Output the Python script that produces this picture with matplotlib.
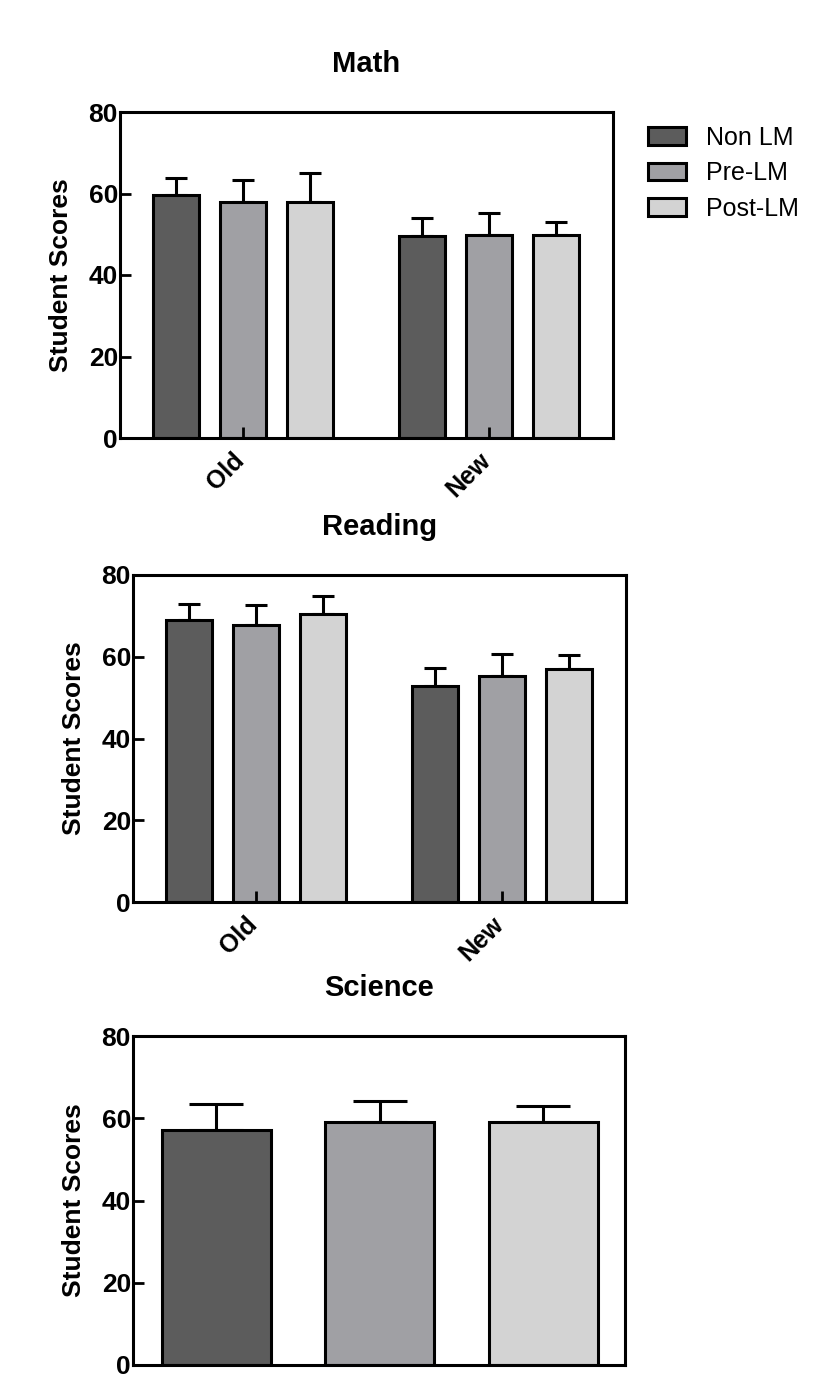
import matplotlib
matplotlib.use("Agg")
import matplotlib.pyplot as plt
import matplotlib.transforms as mtransforms
from matplotlib.patches import Patch

plt.rcParams['font.family'] = ['Liberation Sans', 'DejaVu Sans']

series = ["Non LM", "Pre-LM", "Post-LM"]
colors = ["#5c5c5c", "#a0a0a4", "#d3d3d3"]
groups = ["Old", "New"]

# rows: Non LM, Pre-LM, Post-LM ; columns: Old, New
math_means = [[59.6, 49.6], [57.9, 49.7], [57.9, 49.8]]
math_err = [[4.1, 4.3], [5.4, 5.4], [7.1, 3.3]]

reading_means = [[69.0, 52.8], [67.8, 55.3], [70.5, 57.1]]
reading_err = [[3.8, 4.4], [4.9, 5.4], [4.4, 3.3]]

science_means = [57.2, 59.0, 59.0]
science_err = [6.3, 5.1, 3.9]

yticks = [0, 20, 40, 60, 80]

W, H = 832, 1387
fig = plt.figure(figsize=(W / 100, H / 100), dpi=100)


def px_axes(left, top, right, bottom):
    return fig.add_axes([left / W, 1 - bottom / H, (right - left) / W, (bottom - top) / H])


def style(ax, title):
    ax.set_ylim(0, 80)
    ax.set_yticks(yticks)
    ax.set_axisbelow(False)
    for s in ax.spines.values():
        s.set_linewidth(2.2)
    ax.tick_params(axis='y', direction='in', length=8, width=2, pad=1.5, labelsize=19)
    for lab in ax.get_yticklabels():
        lab.set_fontweight('bold')
    ax.set_ylabel("Student Scores", fontsize=19, fontweight='bold', labelpad=11)
    ax.set_title(title, fontsize=21, fontweight='bold', pad=29)


def grouped(ax, means, errs, title):
    group_x = [0, 3.67]
    width = 0.69
    for i in range(len(series)):
        xs = [g + i for g in group_x]
        ax.bar(xs, means[i], width, color=colors[i], edgecolor='black', linewidth=2.2, zorder=1)
        ax.errorbar(xs, means[i], yerr=[[0] * len(xs), errs[i]], fmt='none', ecolor='black',
                    elinewidth=2.2, capsize=7.9, capthick=2.2, zorder=0.9)
    ax.set_xlim(-0.84, 6.52)
    ax.set_xticks([g + 1 for g in group_x])
    ax.set_xticklabels(groups, rotation=45, ha='right', fontsize=18, fontweight='bold')
    ax.tick_params(axis='x', direction='in', length=8, width=2, pad=7)
    offset = mtransforms.ScaledTranslation(6 / 100, 0, fig.dpi_scale_trans)
    for lab in ax.get_xticklabels():
        lab.set_transform(lab.get_transform() + offset)
    style(ax, title)


ax1 = px_axes(120, 112, 613, 438)
grouped(ax1, math_means, math_err, "Math")

ax2 = px_axes(133, 575, 626, 902)
grouped(ax2, reading_means, reading_err, "Reading")

ax3 = px_axes(133, 1036, 625, 1365)
xs = list(range(len(series)))
ax3.bar(xs, science_means, 0.667, color=colors, edgecolor='black', linewidth=2.2, zorder=1)
ax3.errorbar(xs, science_means, yerr=[[0] * 3, science_err], fmt='none', ecolor='black',
             elinewidth=2.2, capsize=19.4, capthick=2.2, zorder=0.9)
ax3.set_xlim(-0.51, 2.5)
ax3.set_xticks([])
style(ax3, "Science")

handles = [Patch(facecolor=c, edgecolor='black', linewidth=2.2) for c in colors]
fig.legend(handles, series, loc='upper left', bbox_to_anchor=(648 / W, 1 - 126 / H),
           frameon=False, fontsize=18, handlelength=1.5, handleheight=0.72,
           handletextpad=0.8, labelspacing=0.45, borderpad=0, borderaxespad=0)

fig.savefig("out.png", dpi=100, facecolor='white')
